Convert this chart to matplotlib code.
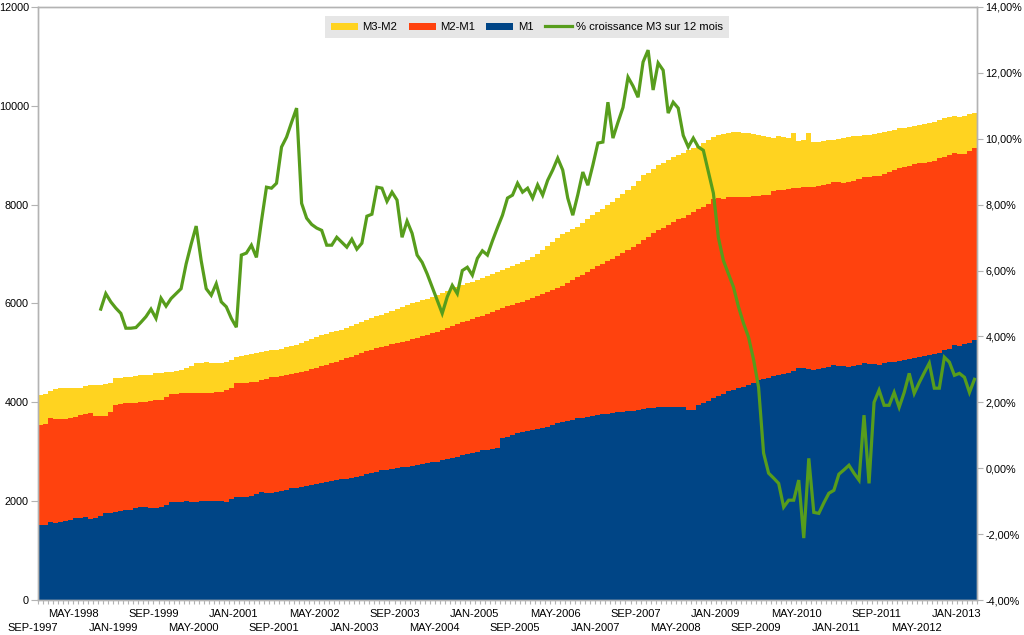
import numpy as np
import matplotlib.pyplot as plt
import matplotlib.transforms as mtransforms
from matplotlib.patches import Patch
from matplotlib.lines import Line2D
from matplotlib.ticker import FuncFormatter, FixedLocator, MultipleLocator

plt.rcParams['font.family'] = ['Liberation Sans', 'DejaVu Sans']

# monthly data, SEP-1997 .. MAR-2013
month_names = ['JAN', 'FEB', 'MAR', 'APR', 'MAY', 'JUN',
               'JUL', 'AUG', 'SEP', 'OCT', 'NOV', 'DEC']
start_year = 1997
start_month = 9

m1 = [
    1520, 1525, 1585, 1560, 1570, 1600, 1610, 1660, 1665, 1685, 1640, 1650,
    1690, 1755, 1760, 1790, 1795, 1820, 1830, 1860, 1890, 1880, 1855, 1870,
    1890, 1930, 1990, 1985, 1990, 1995, 1990, 1990, 2000, 2010, 2005, 2010,
    2000, 1990, 2040, 2090, 2085, 2090, 2110, 2145, 2190, 2175, 2160, 2190,
    2200, 2230, 2260, 2270, 2290, 2310, 2330, 2350, 2370, 2380, 2400, 2420,
    2440, 2450, 2470, 2490, 2510, 2550, 2580, 2600, 2630, 2640, 2660, 2680,
    2690, 2700, 2720, 2730, 2750, 2770, 2790, 2800, 2830, 2850, 2870, 2900,
    2935, 2950, 2980, 3000, 3035, 3040, 3060, 3075, 3280, 3300, 3340, 3380,
    3390, 3420, 3450, 3470, 3480, 3500, 3540, 3580, 3600, 3620, 3650, 3680,
    3690, 3710, 3730, 3745, 3760, 3770, 3790, 3800, 3810, 3820, 3830, 3845,
    3860, 3880, 3890, 3905, 3900, 3910, 3905, 3910, 3900, 3850, 3840, 3950,
    3990, 4030, 4090, 4130, 4170, 4220, 4250, 4280, 4320, 4360, 4400, 4450,
    4470, 4500, 4530, 4550, 4570, 4590, 4630, 4700, 4690, 4670, 4660, 4680,
    4700, 4720, 4760, 4740, 4730, 4720, 4740, 4760, 4790, 4780, 4770, 4760,
    4790, 4810, 4820, 4840, 4860, 4880, 4900, 4920, 4940, 4960, 4980, 5000,
    5060, 5080, 5160, 5130, 5180, 5200, 5260,
]

m2 = [
    3540, 3570, 3690, 3655, 3660, 3670, 3680, 3700, 3745, 3760, 3780, 3725,
    3725, 3730, 3810, 3950, 3960, 3980, 3985, 3995, 4010, 4015, 4030, 4040,
    4050, 4110, 4160, 4170, 4180, 4180, 4180, 4185, 4180, 4190, 4195, 4200,
    4210, 4250, 4300, 4385, 4390, 4400, 4410, 4420, 4450, 4470, 4505, 4520,
    4530, 4550, 4570, 4590, 4610, 4640, 4670, 4700, 4735, 4760, 4790, 4820,
    4855, 4890, 4920, 4960, 5000, 5030, 5060, 5090, 5120, 5150, 5175, 5200,
    5220, 5250, 5280, 5310, 5340, 5370, 5400, 5430, 5465, 5500, 5550, 5590,
    5625, 5650, 5680, 5720, 5750, 5790, 5830, 5870, 5910, 5940, 5970, 6000,
    6030, 6070, 6110, 6150, 6190, 6230, 6270, 6310, 6360, 6410, 6470, 6530,
    6580, 6630, 6690, 6750, 6800, 6850, 6910, 6960, 7020, 7080, 7150, 7210,
    7280, 7340, 7420, 7480, 7530, 7580, 7640, 7700, 7730, 7790, 7850, 7920,
    7960, 8020, 8110, 8140, 8120, 8150, 8160, 8150, 8160, 8150, 8170, 8180,
    8200, 8190, 8280, 8290, 8300, 8320, 8340, 8340, 8350, 8360, 8360, 8370,
    8390, 8420, 8460, 8450, 8440, 8450, 8480, 8510, 8560, 8560, 8570, 8580,
    8620, 8660, 8700, 8740, 8760, 8790, 8820, 8840, 8850, 8865, 8880, 8945,
    8970, 9000, 9045, 9030, 9030, 9080, 9150,
]

m3 = [
    4140, 4160, 4220, 4270, 4280, 4280, 4290, 4280, 4290, 4340, 4350, 4350,
    4360, 4380, 4400, 4485, 4490, 4510, 4520, 4530, 4545, 4555, 4560, 4590,
    4600, 4610, 4615, 4625, 4660, 4700, 4740, 4790, 4800, 4810, 4805, 4800,
    4800, 4810, 4860, 4920, 4930, 4960, 4980, 4990, 5010, 5030, 5050, 5060,
    5080, 5110, 5140, 5170, 5200, 5240, 5280, 5320, 5365, 5390, 5420, 5440,
    5465, 5500, 5540, 5580, 5625, 5660, 5700, 5740, 5770, 5810, 5850, 5890,
    5930, 5960, 6000, 6035, 6070, 6100, 6140, 6175, 6210, 6250, 6300, 6340,
    6375, 6410, 6440, 6480, 6515, 6550, 6600, 6640, 6680, 6720, 6760, 6800,
    6840, 6890, 6940, 7000, 7085, 7160, 7240, 7320, 7400, 7450, 7500, 7555,
    7620, 7700, 7790, 7850, 7920, 7990, 8050, 8130, 8220, 8300, 8380, 8470,
    8600, 8650, 8720, 8800, 8850, 8910, 8960, 9005, 9050, 9100, 9140, 9190,
    9250, 9310, 9360, 9410, 9420, 9440, 9480, 9470, 9460, 9445, 9430, 9400,
    9390, 9375, 9350, 9380, 9360, 9340, 9445, 9290, 9300, 9460, 9275, 9270,
    9280, 9300, 9310, 9330, 9350, 9375, 9380, 9390, 9400, 9410, 9430, 9445,
    9470, 9490, 9510, 9545, 9560, 9580, 9600, 9615, 9640, 9660, 9680, 9720,
    9760, 9780, 9790, 9770, 9800, 9830, 9860,
]

# % growth of M3 over 12 months (starts SEP-1998)
growth = [None] * 12 + [
    4.83, 5.30, 5.05, 4.86, 4.70, 4.25, 4.25, 4.27, 4.43, 4.60, 4.83, 4.55,
    5.16, 4.92, 5.15, 5.30, 5.45, 6.20, 6.80, 7.35, 6.30, 5.45, 5.25, 5.60,
    5.05, 4.90, 4.55, 4.28, 6.47, 6.53, 6.77, 6.40, 7.50, 8.53, 8.50, 8.65,
    9.75, 10.05, 10.50, 10.93, 8.04, 7.59, 7.40, 7.29, 7.22, 6.77, 6.77, 7.01,
    6.86, 6.71, 6.95, 6.65, 6.83, 7.65, 7.71, 8.53, 8.50, 8.10, 8.38, 8.14,
    7.01, 7.50, 7.13, 6.47, 6.25, 5.90, 5.50, 5.10, 4.70, 5.20, 5.55, 5.30,
    6.00, 6.10, 5.86, 6.37, 6.60, 6.47, 6.90, 7.30, 7.68, 8.20, 8.29, 8.65,
    8.38, 8.50, 8.20, 8.60, 8.29, 8.74, 9.05, 9.41, 9.05, 8.20, 7.68, 8.30,
    8.99, 8.59, 9.20, 9.87, 9.90, 11.11, 10.02, 10.50, 10.95, 11.87, 11.60, 11.26,
    12.33, 12.69, 11.48, 12.30, 12.08, 10.78, 11.11, 10.93, 10.10, 9.75, 10.02, 9.75,
    9.65, 9.00, 8.35, 7.00, 6.30, 5.90, 5.50, 4.90, 4.40, 3.98, 3.30, 2.46,
    0.46, -0.15, -0.30, -0.46, -1.18, -0.97, -0.97, -0.36, -2.12, 0.30, -1.34, -1.37,
    -1.05, -0.76, -0.67, -0.18, -0.05, 0.09, -0.15, -0.36, 1.61, -0.46, 2.00, 2.37,
    1.91, 1.91, 2.30, 1.85, 2.30, 2.88, 2.27, 2.60, 2.90, 3.19, 2.43, 2.43,
    3.37, 3.22, 2.82, 2.88, 2.76, 2.30, 2.70,
]

n = len(m1)
x = np.arange(n)
labels = [f"{month_names[(start_month - 1 + i) % 12]}-{start_year + (start_month - 1 + i) // 12}"
          for i in range(n)]

m1 = np.array(m1, dtype=float)
m2 = np.array(m2, dtype=float)
m3 = np.array(m3, dtype=float)
g = np.array([np.nan if v is None else v for v in growth], dtype=float)

c_yellow = '#ffd320'
c_red = '#ff420e'
c_blue = '#004586'
c_green = '#579d1c'
grey = '#b3b3b3'

fig = plt.figure(figsize=(10.24, 6.35), dpi=100)
ax = fig.add_axes([0.0371, 0.0551, 0.917, 0.9339])

ax.bar(x, m1, width=1.0, color=c_blue, linewidth=0)
ax.bar(x, m2 - m1, bottom=m1, width=1.0, color=c_red, linewidth=0)
ax.bar(x, m3 - m2, bottom=m2, width=1.0, color=c_yellow, linewidth=0)

ax.set_xlim(-0.5, n - 0.5)
ax.set_ylim(0, 12000)
ax.yaxis.set_major_locator(MultipleLocator(2000))

ax2 = ax.twinx()
ax2.plot(x, g, color=c_green, linewidth=2.3, solid_joinstyle='miter')
ax2.set_ylim(-4, 14)
ax2.yaxis.set_major_locator(MultipleLocator(2))
ax2.yaxis.set_major_formatter(FuncFormatter(lambda v, p: f"{v:.2f}".replace('.', ',') + '%'))

# x labels every 8 months, staggered on two rows
tick_idx = list(range(0, n, 8))
upper_idx = tick_idx[1::2]
lower_idx = tick_idx[0::2]
shift = mtransforms.ScaledTranslation(-7.5 / 100, 0, fig.dpi_scale_trans)

ax.set_xticks(upper_idx)
ax.set_xticklabels([labels[i] for i in upper_idx], fontsize=8)
ax.xaxis.set_minor_locator(FixedLocator(np.arange(-0.5, n, 1.0)))
ax.tick_params(axis='x', which='major', length=0, pad=6.5)
ax.tick_params(axis='x', which='minor', length=3, color=grey, width=0.8)
for lab in ax.get_xticklabels():
    lab.set_transform(lab.get_transform() + shift)

sec = ax.secondary_xaxis('bottom')
sec.set_xticks(lower_idx, labels=[labels[i] for i in lower_idx], fontsize=8)
sec.tick_params(axis='x', length=0, pad=16.5)
sec.spines['bottom'].set_visible(False)
for lab in sec.get_xticklabels():
    lab.set_transform(lab.get_transform() + shift)

ax.tick_params(axis='y', length=5, color=grey, labelsize=7.8, pad=1.5)
ax2.tick_params(axis='y', length=4, color=grey, labelsize=7.8, pad=2)

for a in (ax, ax2):
    for s in a.spines.values():
        s.set_color(grey)
        s.set_linewidth(1.0)

handles = [
    Patch(facecolor=c_yellow, edgecolor='none', label='M3-M2'),
    Patch(facecolor=c_red, edgecolor='none', label='M2-M1'),
    Patch(facecolor=c_blue, edgecolor='none', label='M1'),
    Line2D([0], [0], color=c_green, linewidth=2.3, label='% croissance M3 sur 12 mois'),
]
leg = ax2.legend(handles=handles, loc='center', bbox_to_anchor=(0.5208, 0.966),
                 ncol=4, fontsize=8.1, frameon=True, fancybox=False,
                 handlelength=2.4, handleheight=0.55, handletextpad=0.4,
                 columnspacing=1.0, borderpad=0.55, borderaxespad=0)
leg.get_frame().set_facecolor('#e6e6e6')
leg.get_frame().set_edgecolor('none')
leg.get_frame().set_alpha(1)

fig.savefig('out.png', dpi=100)
